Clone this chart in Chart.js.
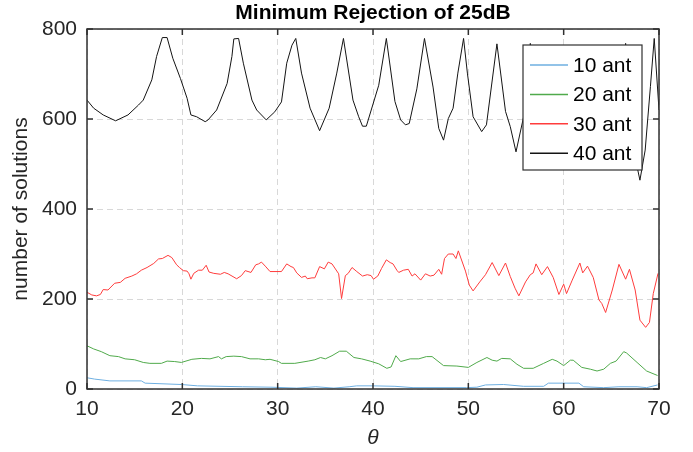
<!DOCTYPE html>
<html>
<head>
<meta charset="utf-8">
<script src="https://cdn.jsdelivr.net/npm/chart.js@4.4.0/dist/chart.umd.min.js"></script>
<style>
    html, body { margin: 0; padding: 0; background: #fff; }
    #wrap { width: 693px; height: 452px; }
</style>
</head>
<body>
<div id="wrap"><canvas id="chart-rejection" width="693" height="452"></canvas></div>
<script>
// values
const labels = ['10 ant', '20 ant', '30 ant', '40 ant'];
const colors = ['rgb(110, 175, 225)', 'rgb(80, 170, 75)', 'rgb(255, 60, 60)', 'rgb(20, 20, 20)'];

const theta10 = [10.0, 10.8, 12.4, 15.7, 16.1, 19.9, 21.6, 26.3, 29.3, 32.0,
    34.0, 35.9, 37.5, 38.3, 40.0, 42.3, 44.2, 49.8, 50.9, 51.8,
    53.7, 55.8, 57.9, 58.4, 61.6, 62.1, 64.2, 65.8, 67.7, 68.7, 69.85];
const ant10 = [25, 22, 18, 18, 13, 10, 7, 5, 4, 2,
    5, 2, 5, 7, 7, 6, 3, 3, 4, 9,
    10, 6, 6, 13, 13, 5, 3, 5, 5, 3, 9];

const theta20 = [10.0, 10.7, 11.5, 12.4, 13.3, 14.0, 15.0, 15.9, 16.6, 17.8,
    18.4, 19.2, 19.9, 21.0, 22.0, 22.9, 23.8, 24.1, 24.6, 25.4,
    26.2, 27.1, 28.0, 28.7, 29.2, 30.1, 30.4, 31.8, 33.2, 33.9,
    34.5, 35.0, 35.7, 36.5, 37.2, 38.0, 38.8, 39.7, 40.6, 41.45,
    41.9, 42.4, 42.9, 43.9, 44.8, 45.6, 46.2, 47.4, 48.8, 50.0,
    50.9, 51.95, 52.5, 53.0, 53.5, 54.4, 55.1, 55.8, 56.8, 57.9,
    58.8, 59.3, 60.0, 60.7, 61.0, 61.9, 62.8, 63.5, 64.2, 64.9,
    65.5, 66.3, 66.6, 67.7, 68.7, 69.85];
const ant20 = [96, 89, 83, 74, 72, 67, 65, 59, 57, 57,
    62, 61, 59, 66, 68, 67, 72, 67, 72, 73,
    72, 67, 67, 65, 66, 61, 57, 57, 62, 65,
    70, 67, 74, 84, 84, 70, 67, 62, 56, 46,
    49, 74, 61, 67, 67, 72, 72, 52, 51, 48,
    59, 70, 64, 62, 68, 67, 55, 46, 46, 57,
    66, 62, 52, 64, 64, 48, 44, 40, 44, 57,
    62, 83, 80, 59, 40, 30];

const theta30 = [10.0, 10.5, 11.0, 11.4, 11.7, 12.2, 12.9, 13.5, 14.0, 14.7,
    15.2, 15.7, 16.3, 17.0, 17.5, 17.9, 18.5, 18.9, 19.4, 19.7,
    20.1, 20.5, 20.7, 20.9, 21.2, 21.7, 22.1, 22.5, 22.8, 23.3,
    24.0, 24.4, 24.8, 25.7, 26.2, 26.6, 27.2, 27.7, 28.0, 28.3,
    28.7, 29.2, 30.4, 30.95, 31.4, 31.65, 32.0, 32.5, 32.9, 33.1,
    33.6, 33.9, 34.4, 34.9, 35.3, 35.7, 36.4, 36.7, 37.1, 37.4,
    37.8, 38.3, 38.9, 39.4, 39.8, 40.05, 40.5, 40.9, 41.4, 41.8,
    42.1, 42.5, 42.7, 43.2, 43.7, 44.1, 44.4, 45.0, 45.5, 46.0,
    46.4, 46.9, 47.2, 47.5, 47.9, 48.4, 48.7, 48.95, 49.7, 50.1,
    50.5, 51.2, 51.8, 52.5, 53.2, 53.9, 54.4, 54.9, 55.3, 56.0,
    56.5, 56.8, 57.1, 57.7, 58.3, 58.9, 59.5, 60.0, 60.3, 60.9,
    61.7, 62.0, 62.5, 63.1, 63.7, 64.0, 64.4, 65.1, 65.8, 66.5,
    66.9, 67.5, 68.0, 68.6, 69.0, 69.4, 69.9];
const ant30 = [215, 209, 207, 210, 221, 220, 235, 237, 246, 251,
    256, 264, 270, 279, 289, 290, 297, 292, 276, 270,
    263, 262, 256, 244, 257, 264, 264, 275, 260, 257,
    255, 259, 256, 245, 252, 263, 259, 276, 278, 282,
    273, 261, 261, 278, 272, 270, 258, 248, 251, 245,
    247, 247, 272, 267, 282, 278, 256, 201, 252, 257,
    270, 261, 251, 254, 252, 244, 251, 268, 287, 281,
    278, 264, 259, 264, 266, 251, 256, 242, 256, 251,
    253, 266, 255, 290, 300, 300, 290, 307, 262, 231,
    218, 238, 254, 281, 252, 280, 250, 224, 207, 238,
    254, 258, 278, 254, 272, 248, 210, 233, 212, 242,
    280, 258, 273, 248, 198, 190, 170, 220, 277, 244,
    266, 220, 153, 137, 148, 212, 257];

const theta40 = [10.0, 10.7, 11.7, 13.0, 14.3, 15.4, 15.9, 16.8, 17.3, 17.9,
    18.4, 19.0, 19.8, 20.5, 20.9, 21.5, 22.4, 22.7, 23.6, 24.7,
    25.2, 25.4, 25.9, 26.4, 27.3, 27.8, 28.8, 29.7, 30.4, 30.95,
    31.5, 31.9, 32.5, 33.4, 34.4, 35.4, 36.2, 36.9, 37.9, 38.5,
    38.9, 39.3, 40.6, 41.4, 42.3, 42.9, 43.4, 43.8, 44.6, 45.4,
    46.3, 46.9, 47.4, 47.9, 48.4, 48.9, 49.5, 49.9, 50.5, 51.4,
    51.9, 53.0, 53.9, 54.4, 55.0, 55.8, 56.5, 57.4, 58.3, 59.9,
    61.7, 63.3, 65.0, 66.5, 67.7, 68.0, 68.55, 69.1, 69.5, 70.0];
const ant40 = [642, 624, 609, 596, 609, 631, 642, 687, 739, 781,
    781, 735, 690, 646, 609, 605, 594, 598, 620, 679,
    739, 778, 779, 724, 642, 620, 598, 616, 638, 724,
    764, 779, 702, 624, 574, 624, 702, 779, 642, 605,
    584, 584, 675, 779, 639, 598, 587, 590, 667, 779,
    671, 579, 553, 601, 624, 702, 779, 702, 605, 572,
    587, 767, 617, 583, 527, 605, 768, 600, 540, 740,
    520, 740, 500, 768, 494, 464, 531, 672, 779, 620];

const xTicks = [10, 20, 30, 40, 50, 60, 70];
const yTicks = [0, 200, 400, 600, 800];

const thetas = [theta10, theta20, theta30, theta40];
const series = [ant10, ant20, ant30, ant40];

const axisColor = '#303030';
const textColor = '#262626';
const gridColor = '#d8d8d8';
const fontFamily = "'Liberation Sans', Arial, sans-serif";

// box, inward ticks and title like the matlab figure
const frame = {
    id: 'frame',
    afterDatasetsDraw(chart) {
        const {ctx, chartArea: a, scales: {x, y}} = chart;
        ctx.save();
        ctx.strokeStyle = axisColor;
        ctx.lineWidth = 1.5;
        ctx.strokeRect(a.left, a.top, a.right - a.left, a.bottom - a.top);
        ctx.beginPath();
        xTicks.forEach((t) => {
            let px = x.getPixelForValue(t);
            ctx.moveTo(px, a.bottom);
            ctx.lineTo(px, a.bottom - 6);
            ctx.moveTo(px, a.top);
            ctx.lineTo(px, a.top + 6);
        });
        yTicks.forEach((t) => {
            let py = y.getPixelForValue(t);
            ctx.moveTo(a.left, py);
            ctx.lineTo(a.left + 6, py);
            ctx.moveTo(a.right, py);
            ctx.lineTo(a.right - 6, py);
        });
        ctx.stroke();

        ctx.fillStyle = '#000';
        ctx.font = 'bold 21px ' + fontFamily;
        ctx.textAlign = 'center';
        ctx.textBaseline = 'middle';
        ctx.fillText('Minimum Rejection of 25dB', (a.left + a.right) / 2, 13);
        ctx.restore();
    },
};

// legend box inside the axes, top right
const boxLegend = {
    id: 'boxLegend',
    afterDraw(chart) {
        const {ctx, chartArea: a} = chart;
        let w = 119;
        let h = 125;
        let left = a.right - 17 - w;
        let top = a.top + 16;
        ctx.save();
        ctx.fillStyle = '#fff';
        ctx.fillRect(left, top, w, h);
        ctx.strokeStyle = axisColor;
        ctx.lineWidth = 1.2;
        ctx.strokeRect(left, top, w, h);
        ctx.font = '21px ' + fontFamily;
        ctx.textBaseline = 'middle';
        ctx.textAlign = 'left';
        chart.data.datasets.forEach((ds, i) => {
            let cy = top + 20 + i * 29.4;
            ctx.strokeStyle = ds.borderColor;
            ctx.lineWidth = 1.5;
            ctx.beginPath();
            ctx.moveTo(left + 7, cy);
            ctx.lineTo(left + 45, cy);
            ctx.stroke();
            ctx.fillStyle = '#000';
            ctx.fillText(ds.label, left + 50, cy + 1);
        });
        ctx.restore();
    },
};

let datasets = labels.map((label, i) => ({
    label: label,
    data: thetas[i].map((t, j) => ({x: t, y: series[i][j]})),
    borderColor: colors[i],
    backgroundColor: colors[i],
    borderWidth: 1,
    pointRadius: 0,
    tension: 0,
    order: labels.length - i,
}));

new Chart(document.getElementById('chart-rejection'), {
    type: 'line',
    data: {datasets: datasets},
    plugins: [frame, boxLegend],
    options: {
        responsive: false,
        animation: false,
        events: [],
        layout: {
            padding: {top: 29, right: 34, left: 0, bottom: 0},
        },
        plugins: {
            legend: {display: false},
            title: {display: false},
            tooltip: {enabled: false},
        },
        scales: {
            x: {
                type: 'linear',
                min: 10,
                max: 70,
                afterBuildTicks: (scale) => {
                    scale.ticks = xTicks.map((v) => ({value: v}));
                },
                afterFit: (scale) => {
                    scale.height = 63;
                },
                ticks: {
                    color: textColor,
                    font: {family: fontFamily, size: 21},
                    padding: 8,
                    maxRotation: 0,
                },
                grid: {color: gridColor, lineWidth: 1, drawTicks: false},
                border: {display: false, dash: [6, 4]},
                title: {
                    display: true,
                    text: 'θ',
                    color: textColor,
                    font: {family: fontFamily, size: 21, style: 'italic'},
                    padding: {top: 0, bottom: 1},
                },
            },
            y: {
                type: 'linear',
                min: 0,
                max: 800,
                afterBuildTicks: (scale) => {
                    scale.ticks = yTicks.map((v) => ({value: v}));
                },
                afterFit: (scale) => {
                    scale.width = 87;
                },
                ticks: {
                    color: textColor,
                    font: {family: fontFamily, size: 21},
                    padding: 10,
                },
                grid: {color: gridColor, lineWidth: 1, drawTicks: false},
                border: {display: false, dash: [6, 4]},
                title: {
                    display: true,
                    text: 'number of solutions',
                    color: textColor,
                    font: {family: fontFamily, size: 21},
                    padding: {top: 9, bottom: 0},
                },
            },
        },
    },
});
</script>
</body>
</html>
